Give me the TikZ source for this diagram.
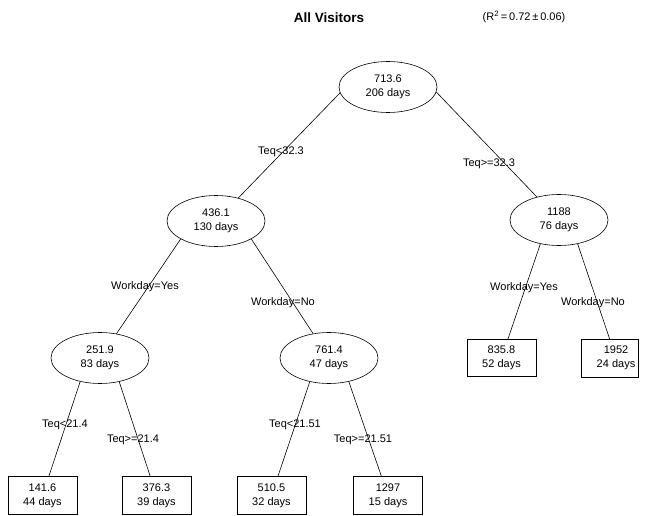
\documentclass[tikz,border=0pt]{standalone}
\usepackage{fontspec}
\setmainfont{Liberation Sans}
\usetikzlibrary{shapes.geometric,calc}
\begin{document}
\begin{tikzpicture}[x=1pt,y=-1pt,
  txt/.style={font=\fontsize{11}{14}\selectfont},
  inner/.style={ellipse,draw,line width=0.6pt,fill=white,minimum width=98pt,
    minimum height=51pt,inner sep=0pt,align=center,txt},
  leaf/.style={rectangle,draw,line width=0.6pt,fill=white,minimum width=69pt,
    minimum height=37.5pt,inner sep=0pt,align=center,txt},
  branch/.style={line width=0.6pt},
  split/.style={inner sep=0pt,txt}]
\useasboundingbox[fill=white] (0,0) rectangle (646,516);

% headings
\node[inner sep=0pt,font=\fontsize{13.5}{16}\selectfont\bfseries] (title) at (329,18) {All Visitors};
\node[inner sep=0pt,txt] (rsq) at (524,17) {(R\textsuperscript{2}\,=\,0.72\,±\,0.06)};

% split nodes
\node[inner] (root) at (388,87) {713.6\\206 days};
\node[inner] (n436) at (216,221) {436.1\\130 days};
\node[inner] (n1188) at (559,220) {1188\\76 days};
\node[inner] (n252) at (100,358) {251.9\\83 days};
\node[inner] (n761) at (329,358) {761.4\\47 days};

% terminal nodes
\node[leaf] (l142) at (42.5,495.5) {141.6\\44 days};
\node[leaf] (l376) at (156.5,495.5) {376.3\\39 days};
\node[leaf] (l510) at (271.5,495.5) {510.5\\32 days};
\node[leaf] (l1297) at (388,495.5) {1297\\15 days};
\node[leaf] (l836) at (501.5,358) {835.8\\52 days};
\node[leaf,draw=none] (l1952) at (616,358) {1952\\24 days};
\draw[line width=0.6pt] (l1952.north west) rectangle ($(l1952.south east)+(-13,0)$);

% branches
\draw[branch] (root.187) -- (n436);
\draw[branch] (root.354) -- (n1188);
\draw[branch] (n436.207) -- (n252);
\draw[branch] (n436.333) -- (n761);
\draw[branch] (n1188.232) -- (l836);
\draw[branch] (n1188.308) -- (l1952);
\draw[branch] (n252.230) -- (l142);
\draw[branch] (n252.309) -- (l376);
\draw[branch] (n761.231) -- (l510);
\draw[branch] (n761.310) -- (l1297);

% split rules
\node[split] (s1) at (281,152) {Teq<32.3};
\node[split] (s2) at (489,164) {Teq>=32.3};
\node[split] (s3) at (145,287) {Workday=Yes};
\node[split] (s4) at (283,303) {Workday=No};
\node[split] (s5) at (524,288) {Workday=Yes};
\node[split] (s6) at (593,303) {Workday=No};
\node[split] (s7) at (65,425) {Teq<21.4};
\node[split] (s8) at (133,440) {Teq>=21.4};
\node[split] (s9) at (295,425) {Teq<21.51};
\node[split] (s10) at (363,440) {Teq>=21.51};
\end{tikzpicture}
\end{document}
